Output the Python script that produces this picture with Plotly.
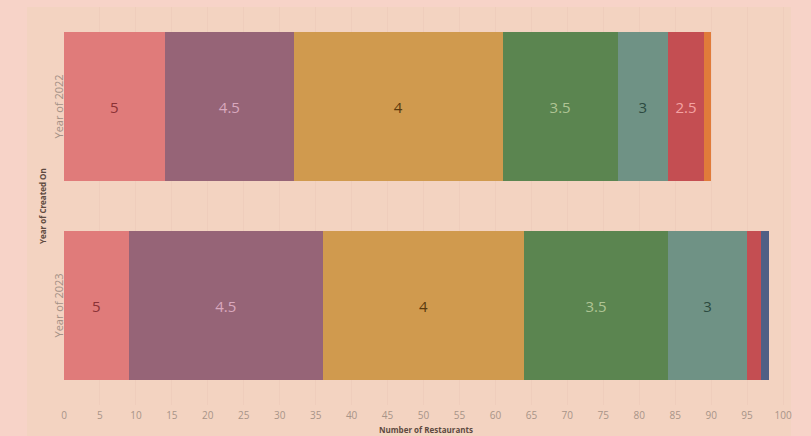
import plotly.graph_objects as go

years = ["Year of 2022", "Year of 2023"]
ratings = ["5", "4.5", "4", "3.5", "3", "2.5", "2", "1.5"]
r5 = [14, 9]
r45 = [18, 27]
r4 = [29, 28]
r35 = [16, 20]
r3 = [7, 11]
r25 = [5, 2]
r2 = [1, 0]
r15 = [0, 1]
values = [r5, r45, r4, r35, r3, r25, r2, r15]
x_ticks = list(range(0, 101, 5))

colors = ["#E07B7A", "#966477", "#D09A4E", "#5B8550", "#6F9285", "#C44E52", "#E07B3A", "#4F5F85"]
text_colors = ["#8A3236", "#D9A8BE", "#5A3A0E", "#AFC494", "#2C4A40", "#F4A3A3", "#000000", "#000000"]

fig = go.Figure()
for name, vals, c, tc in zip(ratings, values, colors, text_colors):
    fig.add_trace(go.Bar(
        y=years, x=vals, name=name, orientation="h",
        marker=dict(color=c, line=dict(width=0)),
        text=[name if v >= 4 else "" for v in vals],
        textposition="inside", insidetextanchor="middle", textangle=0,
        constraintext="none",
        textfont=dict(color=tc, size=15, family="Open Sans"),
        width=0.75, showlegend=False, hoverinfo="skip",
    ))

fig.update_layout(
    barmode="stack",
    width=811, height=436,
    margin=dict(l=64, r=24, t=7, b=31),
    paper_bgcolor="#F7D3C8",
    plot_bgcolor="rgba(0,0,0,0)",
    font=dict(family="Open Sans", color="#9C8A80"),
    xaxis=dict(
        range=[0, 100.55], tickvals=x_ticks, ticktext=[str(t) for t in x_ticks],
        showgrid=True, gridcolor="#EFCDBC", gridwidth=1, zeroline=False,
        tickfont=dict(size=10, color="#A89488"), ticks="outside", ticklen=1,
        tickcolor="rgba(0,0,0,0)", showline=False,
    ),
    yaxis=dict(
        autorange="reversed", showticklabels=False, showgrid=False,
        zeroline=False, showline=False,
    ),
    shapes=[dict(type="rect", xref="paper", yref="paper",
                 x0=-37/723, x1=1+4/723, y0=-31/398, y1=1, layer="below",
                 line=dict(width=0), fillcolor="#F3D3C1")],
    annotations=[
        dict(text="Year of 2022", x=0, y="Year of 2022", xref="paper", yref="y",
             xshift=-6, textangle=-90, showarrow=False, xanchor="center",
             font=dict(size=11, color="#A39085")),
        dict(text="Year of 2023", x=0, y="Year of 2023", xref="paper", yref="y",
             xshift=-6, textangle=-90, showarrow=False, xanchor="center",
             font=dict(size=11, color="#A39085")),
        dict(text="<b>Year of Created On</b>", x=0, y=0.5, xref="paper", yref="paper",
             xshift=-22, textangle=-90, showarrow=False, xanchor="center",
             font=dict(size=8, color="#5E4A40")),
        dict(text="<b>Number of Restaurants</b>", x=0.5, y=0, xref="paper", yref="paper",
             yshift=-24, showarrow=False, yanchor="middle",
             font=dict(size=8, color="#5E4A40")),
    ],
)

fig.write_html("out.html")
